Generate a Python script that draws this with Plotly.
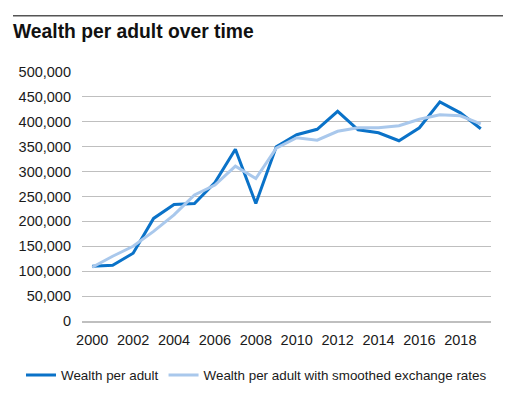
import plotly.graph_objects as go

years = list(range(2000, 2020))
wealth = [110000, 112000, 136000, 206000, 234000, 236000, 278000, 345000, 236000, 350000,
          374000, 385000, 421000, 384000, 378000, 362000, 388000, 440000, 418000, 386000]
wealth_smoothed = [108000, 130000, 150000, 180000, 213000, 253000, 273000, 311000, 286000, 347000,
                   368000, 363000, 381000, 388000, 388000, 392000, 405000, 414000, 412000, 396000]
tick_years = list(range(2000, 2019, 2))
y_ticks = list(range(0, 500001, 50000))

FONT = "Liberation Sans, Arial, Helvetica, sans-serif"

fig = go.Figure()
fig.add_trace(go.Scatter(x=years, y=wealth, mode="lines", name="Wealth per adult",
                         line=dict(color="#0A72C8", width=3)))
fig.add_trace(go.Scatter(x=years, y=wealth_smoothed, mode="lines",
                         name="Wealth per adult with smoothed exchange rates",
                         line=dict(color="#A9C8EC", width=3)))

fig.update_layout(
    width=505, height=399,
    margin=dict(l=82, r=14, t=71.5, b=77.5, autoexpand=False),
    paper_bgcolor="white", plot_bgcolor="white",
    font=dict(family=FONT, color="#1a1a1a"),
    title=dict(text="<b>Wealth per adult over time</b>", x=13/505, xanchor="left",
               y=1 - 31/399, yanchor="middle", font=dict(size=19.3, color="#111")),
    showlegend=True,
    legend=dict(orientation="h", x=(21 - 82) / 409, xanchor="left",
                y=(321.5 - 376) / 250, yanchor="middle",
                font=dict(size=13.4, color="#1a1a1a"),
                bgcolor="rgba(0,0,0,0)", itemwidth=30, tracegroupgap=0),
    xaxis=dict(range=[1999.5, 2019.5], tickmode="array", tickvals=tick_years,
               ticktext=[str(v) for v in tick_years], showgrid=False, zeroline=False,
               showline=True, linecolor="#BFBFBF", linewidth=1.5, ticks="", automargin=False,
               ticklabelstandoff=5,
               tickfont=dict(size=14.5, color="#1a1a1a"), fixedrange=True),
    yaxis=dict(range=[0, 500000], tickmode="array", tickvals=y_ticks,
               ticktext=[f"{v:,}" for v in y_ticks], showgrid=True, gridcolor="#BFBFBF",
               gridwidth=1, zeroline=False, showline=False, ticks="", automargin=False,
               ticklabelstandoff=10, tickfont=dict(size=14.5, color="#1a1a1a"), fixedrange=True),
    shapes=[dict(type="line", xref="paper", yref="paper",
                 x0=(13 - 82) / 409, x1=(503 - 82) / 409,
                 y0=(321.5 - 15) / 250, y1=(321.5 - 15) / 250,
                 line=dict(color="#555555", width=1.5))],
)

fig.write_html("out.html", config={"displayModeBar": False},
               post_script="document.body.style.margin='0';document.body.style.padding='0';")
